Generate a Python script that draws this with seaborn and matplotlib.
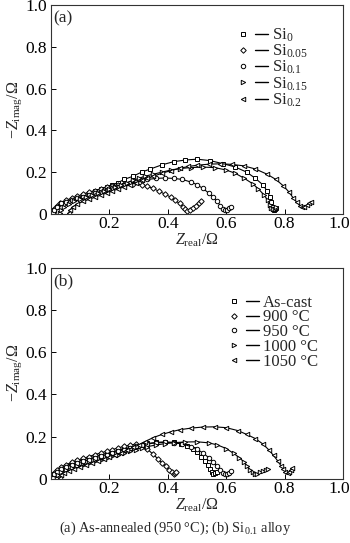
import matplotlib
matplotlib.use("Agg")
import matplotlib.pyplot as plt
import matplotlib.transforms as mtransforms
import seaborn as sns
import pandas as pd
from matplotlib.lines import Line2D
from matplotlib.legend_handler import HandlerTuple

# ---------------- data: panel (a) ----------------
a_labels = [r"Si$_{\mathrm{0}}$", r"Si$_{\mathrm{0.05}}$", r"Si$_{\mathrm{0.1}}$",
            r"Si$_{\mathrm{0.15}}$", r"Si$_{\mathrm{0.2}}$"]
a_si0_x = [0.005, 0.01, 0.02, 0.035, 0.05, 0.07, 0.09, 0.11, 0.13, 0.15, 0.17, 0.19, 0.21, 0.23,
           0.25, 0.28, 0.31, 0.34, 0.38, 0.42, 0.46, 0.5, 0.545, 0.59, 0.63, 0.67, 0.7, 0.725,
           0.74, 0.75, 0.755, 0.758, 0.762, 0.768, 0.772]
a_si0_y = [0.005, 0.02, 0.035, 0.05, 0.06, 0.07, 0.08, 0.09, 0.1, 0.11, 0.12, 0.13, 0.14, 0.15,
           0.165, 0.18, 0.2, 0.215, 0.235, 0.25, 0.258, 0.262, 0.255, 0.24, 0.225, 0.2, 0.17, 0.14,
           0.11, 0.08, 0.055, 0.035, 0.02, 0.022, 0.03]
a_si005_x = [0.005, 0.01, 0.02, 0.03, 0.05, 0.07, 0.09, 0.11, 0.13, 0.15, 0.17, 0.19, 0.21, 0.23,
             0.25, 0.28, 0.31, 0.33, 0.35, 0.37, 0.39, 0.41, 0.425, 0.44, 0.452, 0.46, 0.465,
             0.475, 0.485, 0.495, 0.505, 0.515]
a_si005_y = [0.005, 0.025, 0.04, 0.05, 0.065, 0.075, 0.085, 0.095, 0.105, 0.112, 0.12, 0.128,
             0.134, 0.14, 0.143, 0.145, 0.14, 0.132, 0.122, 0.108, 0.095, 0.08, 0.065, 0.05,
             0.035, 0.022, 0.015, 0.02, 0.03, 0.04, 0.05, 0.062]
a_si01_x = [0.005, 0.01, 0.02, 0.035, 0.05, 0.07, 0.09, 0.11, 0.13, 0.15, 0.17, 0.19, 0.21, 0.23,
            0.25, 0.27, 0.29, 0.31, 0.33, 0.36, 0.39, 0.42, 0.45, 0.48, 0.5, 0.52, 0.54, 0.555,
            0.568, 0.58, 0.59, 0.595, 0.602, 0.61, 0.615]
a_si01_y = [0.005, 0.02, 0.035, 0.05, 0.058, 0.066, 0.074, 0.082, 0.09, 0.098, 0.106, 0.114,
            0.122, 0.13, 0.138, 0.146, 0.153, 0.16, 0.165, 0.17, 0.172, 0.17, 0.165, 0.152, 0.14,
            0.122, 0.1, 0.08, 0.06, 0.04, 0.025, 0.018, 0.02, 0.028, 0.034]
a_si015_x = [0.03, 0.035, 0.045, 0.06, 0.08, 0.1, 0.12, 0.14, 0.16, 0.18, 0.2, 0.22, 0.24, 0.26,
             0.28, 0.3, 0.32, 0.35, 0.38, 0.41, 0.44, 0.48, 0.52, 0.56, 0.6, 0.63, 0.66, 0.69,
             0.71, 0.73, 0.742, 0.75, 0.755, 0.76, 0.766, 0.772]
a_si015_y = [0.005, 0.02, 0.035, 0.048, 0.06, 0.07, 0.08, 0.09, 0.1, 0.11, 0.12, 0.13, 0.14,
             0.15, 0.16, 0.17, 0.18, 0.19, 0.2, 0.21, 0.217, 0.222, 0.224, 0.222, 0.21, 0.195,
             0.172, 0.145, 0.12, 0.09, 0.065, 0.045, 0.03, 0.022, 0.025, 0.032]
a_si02_x = [0.06, 0.065, 0.075, 0.09, 0.11, 0.13, 0.15, 0.17, 0.19, 0.21, 0.23, 0.25, 0.27, 0.29,
            0.31, 0.33, 0.35, 0.38, 0.41, 0.44, 0.47, 0.5, 0.54, 0.58, 0.62, 0.66, 0.7, 0.74,
            0.77, 0.795, 0.815, 0.83, 0.842, 0.852, 0.86, 0.868, 0.876, 0.884, 0.89]
a_si02_y = [0.005, 0.02, 0.035, 0.048, 0.06, 0.07, 0.08, 0.09, 0.1, 0.11, 0.12, 0.13, 0.14, 0.15,
            0.16, 0.17, 0.18, 0.195, 0.207, 0.218, 0.227, 0.233, 0.238, 0.24, 0.237, 0.23, 0.215,
            0.19, 0.165, 0.135, 0.105, 0.075, 0.055, 0.04, 0.035, 0.035, 0.042, 0.05, 0.057]

# ---------------- data: panel (b) ----------------
b_labels = ["As-cast", "900 °C", "950 °C", "1000 °C", "1050 °C"]
b_cast_x = [0.005, 0.01, 0.02, 0.035, 0.05, 0.07, 0.09, 0.11, 0.13, 0.15, 0.17, 0.19, 0.21, 0.23,
            0.25, 0.27, 0.29, 0.31, 0.33, 0.36, 0.39, 0.42, 0.445, 0.465, 0.485, 0.5, 0.515,
            0.527, 0.537, 0.545, 0.55, 0.555, 0.562, 0.57]
b_cast_y = [0.005, 0.02, 0.035, 0.05, 0.06, 0.072, 0.082, 0.09, 0.098, 0.106, 0.113, 0.12,
            0.127, 0.134, 0.141, 0.148, 0.155, 0.162, 0.167, 0.172, 0.175, 0.172, 0.165, 0.155,
            0.14, 0.125, 0.105, 0.085, 0.065, 0.045, 0.03, 0.022, 0.025, 0.03]
b_900_x = [0.005, 0.01, 0.02, 0.035, 0.05, 0.07, 0.09, 0.11, 0.13, 0.15, 0.17, 0.19, 0.21, 0.23,
           0.25, 0.27, 0.29, 0.31, 0.33, 0.35, 0.365, 0.38, 0.393, 0.405, 0.415, 0.42, 0.425,
           0.428]
b_900_y = [0.005, 0.025, 0.04, 0.055, 0.065, 0.077, 0.087, 0.096, 0.105, 0.114, 0.122, 0.13,
           0.138, 0.146, 0.153, 0.16, 0.163, 0.158, 0.14, 0.115, 0.095, 0.075, 0.058, 0.042,
           0.03, 0.022, 0.025, 0.032]
b_950_x = [0.005, 0.01, 0.02, 0.035, 0.05, 0.07, 0.09, 0.11, 0.13, 0.15, 0.17, 0.19, 0.21, 0.23,
           0.25, 0.27, 0.29, 0.31, 0.33, 0.36, 0.39, 0.42, 0.45, 0.48, 0.5, 0.52, 0.54, 0.555,
           0.568, 0.58, 0.59, 0.596, 0.603, 0.61, 0.615]
b_950_y = [0.005, 0.02, 0.033, 0.045, 0.055, 0.065, 0.074, 0.082, 0.09, 0.098, 0.106, 0.114,
           0.122, 0.13, 0.138, 0.146, 0.153, 0.16, 0.165, 0.17, 0.172, 0.17, 0.165, 0.152, 0.14,
           0.122, 0.1, 0.08, 0.06, 0.04, 0.025, 0.02, 0.022, 0.028, 0.034]
b_1000_x = [0.02, 0.025, 0.035, 0.05, 0.07, 0.09, 0.11, 0.13, 0.15, 0.17, 0.19, 0.21, 0.23, 0.25,
            0.27, 0.29, 0.31, 0.33, 0.36, 0.39, 0.42, 0.46, 0.5, 0.54, 0.57, 0.6, 0.625, 0.645,
            0.66, 0.672, 0.682, 0.69, 0.697, 0.705, 0.715, 0.725, 0.735, 0.742]
b_1000_y = [0.005, 0.018, 0.03, 0.04, 0.05, 0.058, 0.066, 0.074, 0.082, 0.09, 0.098, 0.106,
            0.114, 0.122, 0.13, 0.138, 0.145, 0.152, 0.16, 0.166, 0.171, 0.174, 0.175, 0.17,
            0.16, 0.143, 0.12, 0.1, 0.08, 0.06, 0.042, 0.03, 0.022, 0.024, 0.03, 0.036, 0.042,
            0.048]
b_1050_x = [0.03, 0.035, 0.045, 0.06, 0.08, 0.1, 0.12, 0.14, 0.16, 0.18, 0.2, 0.22, 0.24, 0.26,
            0.28, 0.3, 0.32, 0.35, 0.38, 0.41, 0.44, 0.48, 0.52, 0.56, 0.6, 0.64, 0.67, 0.7,
            0.725, 0.745, 0.762, 0.776, 0.787, 0.796, 0.803, 0.81, 0.816, 0.822, 0.826]
b_1050_y = [0.005, 0.015, 0.027, 0.037, 0.047, 0.056, 0.065, 0.074, 0.083, 0.092, 0.102, 0.112,
            0.123, 0.135, 0.148, 0.16, 0.175, 0.195, 0.21, 0.222, 0.232, 0.24, 0.245, 0.246,
            0.242, 0.228, 0.21, 0.19, 0.165, 0.138, 0.11, 0.085, 0.062, 0.045, 0.032, 0.026,
            0.032, 0.042, 0.05]

ticks = [0, 0.2, 0.4, 0.6, 0.8, 1.0]
ytick_labels = ["0", "0.2", "0.4", "0.6", "0.8", "1.0"]
xtick_labels = ["", "0.2", "0.4", "0.6", "0.8", "1.0"]
markers = ["s", "D", "o", ">", "<"]

sns.set_theme(style="white")
plt.rcParams["font.family"] = ["Liberation Serif", "DejaVu Serif"]
plt.rcParams["mathtext.fontset"] = "custom"
plt.rcParams["mathtext.rm"] = "Liberation Serif"
plt.rcParams["mathtext.it"] = "Liberation Serif:italic"
plt.rcParams["mathtext.bf"] = "Liberation Serif:bold"

fig = plt.figure(figsize=(3.5, 5.43), dpi=100)
ax_a = fig.add_axes([0.146, 0.606, 0.834, 0.385])
ax_b = fig.add_axes([0.146, 0.1185, 0.834, 0.388])

panels = [
    (ax_a, "(a)", a_labels, [(a_si0_x, a_si0_y), (a_si005_x, a_si005_y), (a_si01_x, a_si01_y),
                             (a_si015_x, a_si015_y), (a_si02_x, a_si02_y)],
     (0.613, 0.928), -0.07),
    (ax_b, "(b)", b_labels, [(b_cast_x, b_cast_y), (b_900_x, b_900_y), (b_950_x, b_950_y),
                             (b_1000_x, b_1000_y), (b_1050_x, b_1050_y)],
     (0.582, 0.905), -0.07),
]

TICK_FS = 12.5
for ax, tag, labels, series, anchor, lspace in panels:
    handles = []
    for (xs, ys), lab, mk in zip(series, labels, markers):
        df = pd.DataFrame({"x": xs, "y": ys})
        ms = 3.2 if mk != "D" else 2.8
        sns.lineplot(data=df, x="x", y="y", ax=ax, sort=False, estimator=None,
                     color="black", linewidth=0.8, marker=mk, markersize=ms,
                     markerfacecolor="white", markeredgecolor="black",
                     markeredgewidth=0.7, legend=False)
        h_m = Line2D([], [], ls="none", marker=mk, markersize=ms, markerfacecolor="white",
                     markeredgecolor="black", markeredgewidth=0.7)
        h_l = Line2D([], [], color="black", linewidth=1.0)
        handles.append((h_m, h_l))
    ax.set_xlim(0, 1.0)
    ax.set_ylim(0, 1.0)
    ax.set_xticks(ticks)
    ax.set_xticklabels(xtick_labels)
    ax.set_yticks(ticks)
    ax.set_yticklabels(ytick_labels)
    ax.tick_params(direction="in", length=3.5, width=0.7, labelsize=TICK_FS,
                   colors="black", bottom=True, left=True, top=False, right=False)
    ax.tick_params(axis="x", pad=1.5)
    ax.tick_params(axis="y", pad=3)
    # keep the last x tick label inside the figure
    last = ax.get_xticklabels()[-1]
    last.set_transform(last.get_transform() +
                       mtransforms.ScaledTranslation(-4 / 100, 0, fig.dpi_scale_trans))
    for sp in ax.spines.values():
        sp.set_color("#333333")
        sp.set_linewidth(0.8)
    ax.set_xlabel(r"$Z_{\mathrm{real}}/\Omega$", fontsize=11.5, labelpad=0)
    ax.set_ylabel(r"$-Z_{\mathrm{imag}}/\Omega$", fontsize=11.5, labelpad=1)
    ax.text(0.008, 0.975, tag, transform=ax.transAxes, ha="left", va="top", fontsize=12.5)
    ax.legend(handles, labels, handler_map={tuple: HandlerTuple(ndivide=None, pad=0.3)},
              loc="upper left", bbox_to_anchor=anchor, frameon=False, fontsize=12,
              handlelength=1.9, handletextpad=0.2, labelspacing=lspace, borderaxespad=0)

fig.text(0.5, 0.027, r"(a) As-annealed (950 °C); (b) Si$_{\mathrm{0.1}}$ alloy",
         ha="center", va="center", fontsize=10.4)

fig.savefig("out.png", dpi=100)
